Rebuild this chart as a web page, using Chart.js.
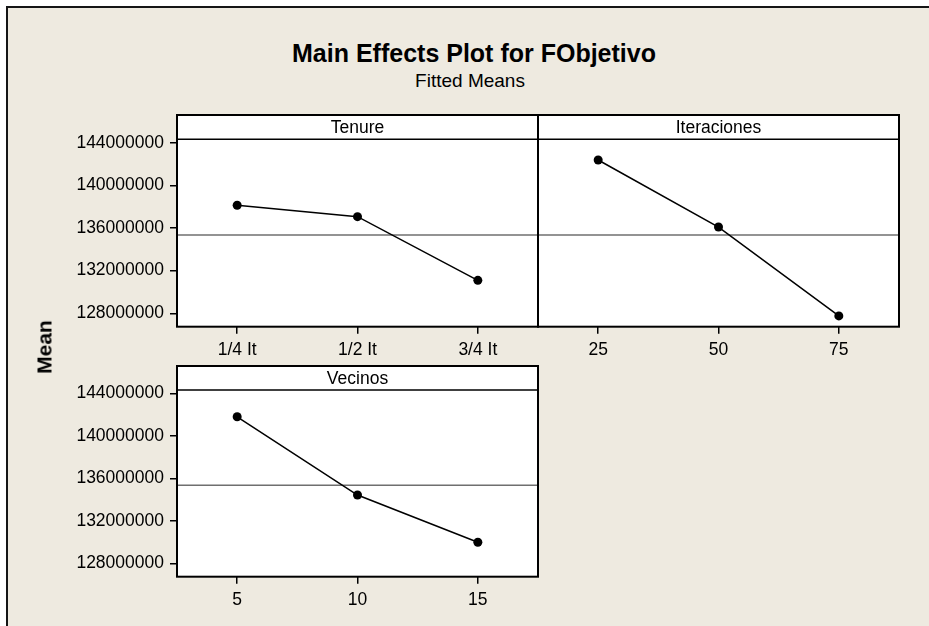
<!DOCTYPE html>
<html>
<head>
<meta charset="utf-8">
<title>Main Effects Plot for FObjetivo</title>
<script src="https://cdn.jsdelivr.net/npm/chart.js@4.4.0/dist/chart.umd.min.js"></script>
<style>
  html, body { margin: 0; padding: 0; width: 929px; height: 626px; overflow: hidden; background: #ffffff; }
  #frame { position: absolute; left: 6px; top: 6px; width: 1000px; height: 700px;
           background: #EEEAE0; border-left: 2px solid #151515; border-top: 2px solid #151515; }
  canvas { position: absolute; }
  .txt { position: absolute; color: #000; font-family: "Liberation Sans", Arial, sans-serif; white-space: nowrap; }
  #mainTitle { left: 0; width: 948px; top: 41px; text-align: center; font-weight: bold; font-size: 25px; line-height: 25px; }
  #subTitle { left: 0; width: 940px; top: 71px; text-align: center; font-size: 19px; line-height: 19px; }
  #yTitle { left: 44.3px; top: 346.7px; font-weight: bold; font-size: 21px; line-height: 21px;
            transform: translate(-50%, -50%) rotate(-90deg); }
</style>
</head>
<body>
<div id="frame"></div>
<canvas id="cTenure" width="545" height="270" style="left:0px;top:100px;"></canvas>
<canvas id="cIter" width="378" height="270" style="left:530px;top:100px;"></canvas>
<canvas id="cVecinos" width="545" height="270" style="left:0px;top:350px;"></canvas>
<div id="mainTitle" class="txt">Main Effects Plot for FObjetivo</div>
<div id="subTitle" class="txt">Fitted Means</div>
<div id="yTitle" class="txt">Mean</div>
<script>
// Fitted means for each factor level
const tenureLevels = ['1/4 It', '1/2 It', '3/4 It'];
const tenureMeans = [138130000, 137060000, 131090000];

const iterLevels = ['25', '50', '75'];
const iterMeans = [142380000, 136090000, 127750000];

const vecinosLevels = ['5', '10', '15'];
const vecinosMeans = [141800000, 134430000, 129980000];

// Overall mean (horizontal reference line)
const grandMean = 135350000;

// Shared y axis
const yTickValues = [128000000, 132000000, 136000000, 140000000, 144000000];
const yMin = 126740000;
const yMax = 144320000;

const FONT = '"Liberation Sans", Arial, sans-serif';
const TICK_SIZE = 17.5;

// Panel decoration: white plot area, factor strip, reference line, border box
const panelFrame = {
  id: 'panelFrame',
  beforeDraw(chart, args, opts) {
    const { ctx, chartArea: a } = chart;
    ctx.save();
    ctx.fillStyle = '#ffffff';
    ctx.fillRect(a.left, a.top - opts.stripH, a.right - a.left, a.bottom - a.top + opts.stripH);
    ctx.restore();
  },
  beforeDatasetsDraw(chart) {
    const { ctx, chartArea: a } = chart;
    const y = chart.scales.y.getPixelForValue(grandMean);
    ctx.save();
    ctx.strokeStyle = '#6f6f6f';
    ctx.lineWidth = 1.5;
    ctx.beginPath();
    ctx.moveTo(a.left, y);
    ctx.lineTo(a.right, y);
    ctx.stroke();
    ctx.restore();
  },
  afterDraw(chart, args, opts) {
    const { ctx, chartArea: a } = chart;
    const top = a.top - opts.stripH;
    ctx.save();
    ctx.strokeStyle = '#000';
    ctx.lineWidth = 1.5;
    ctx.beginPath();
    ctx.moveTo(a.left, a.top);
    ctx.lineTo(a.right, a.top);
    ctx.stroke();
    ctx.lineWidth = 2;
    ctx.strokeRect(a.left, top, a.right - a.left, a.bottom - top);
    ctx.fillStyle = '#000';
    ctx.font = TICK_SIZE + 'px ' + FONT;
    ctx.textAlign = 'center';
    ctx.textBaseline = 'middle';
    ctx.fillText(opts.label, (a.left + a.right) / 2, top + opts.stripH / 2 + 1);
    ctx.restore();
  }
};

function makePanel(id, name, labels, values, showY, pad, stripH) {
  return new Chart(document.getElementById(id), {
    type: 'line',
    data: {
      labels: labels,
      datasets: [{
        data: values,
        borderColor: '#000',
        backgroundColor: '#000',
        borderWidth: 1.5,
        pointRadius: 4.5,
        pointBackgroundColor: '#000',
        pointBorderWidth: 0,
        tension: 0,
        clip: false
      }]
    },
    options: {
      responsive: false,
      animation: false,
      devicePixelRatio: 1,
      events: [],
      layout: { padding: pad },
      plugins: {
        legend: { display: false },
        tooltip: { enabled: false },
        panelFrame: { label: name, stripH: stripH }
      },
      scales: {
        x: {
          offset: true,
          border: { display: false },
          grid: { drawOnChartArea: false, offset: false, tickLength: 7, color: '#000', lineWidth: 1.5 },
          ticks: { color: '#000', font: { family: FONT, size: TICK_SIZE }, padding: 6, maxRotation: 0, autoSkip: false },
          afterFit(s) { s.height = 40; }
        },
        y: {
          display: showY,
          min: yMin,
          max: yMax,
          afterBuildTicks(s) { s.ticks = yTickValues.map(v => ({ value: v })); },
          border: { display: false },
          grid: { drawOnChartArea: false, tickLength: 7, color: '#000', lineWidth: 1.5 },
          ticks: { color: '#000', font: { family: FONT, size: TICK_SIZE }, padding: 6, callback: v => String(v) },
          afterFit(s) { s.width = showY ? 177 : 0; }
        }
      }
    },
    plugins: [panelFrame]
  });
}

makePanel('cTenure', 'Tenure', tenureLevels, tenureMeans, true,
  { left: 0, top: 39.3, right: 7, bottom: 3.3 }, 24.3);
makePanel('cIter', 'Iteraciones', iterLevels, iterMeans, false,
  { left: 8, top: 39.3, right: 9, bottom: 3.3 }, 24.3);
makePanel('cVecinos', 'Vecinos', vecinosLevels, vecinosMeans, true,
  { left: 0, top: 40, right: 7, bottom: 3.3 }, 24);
</script>
</body>
</html>
